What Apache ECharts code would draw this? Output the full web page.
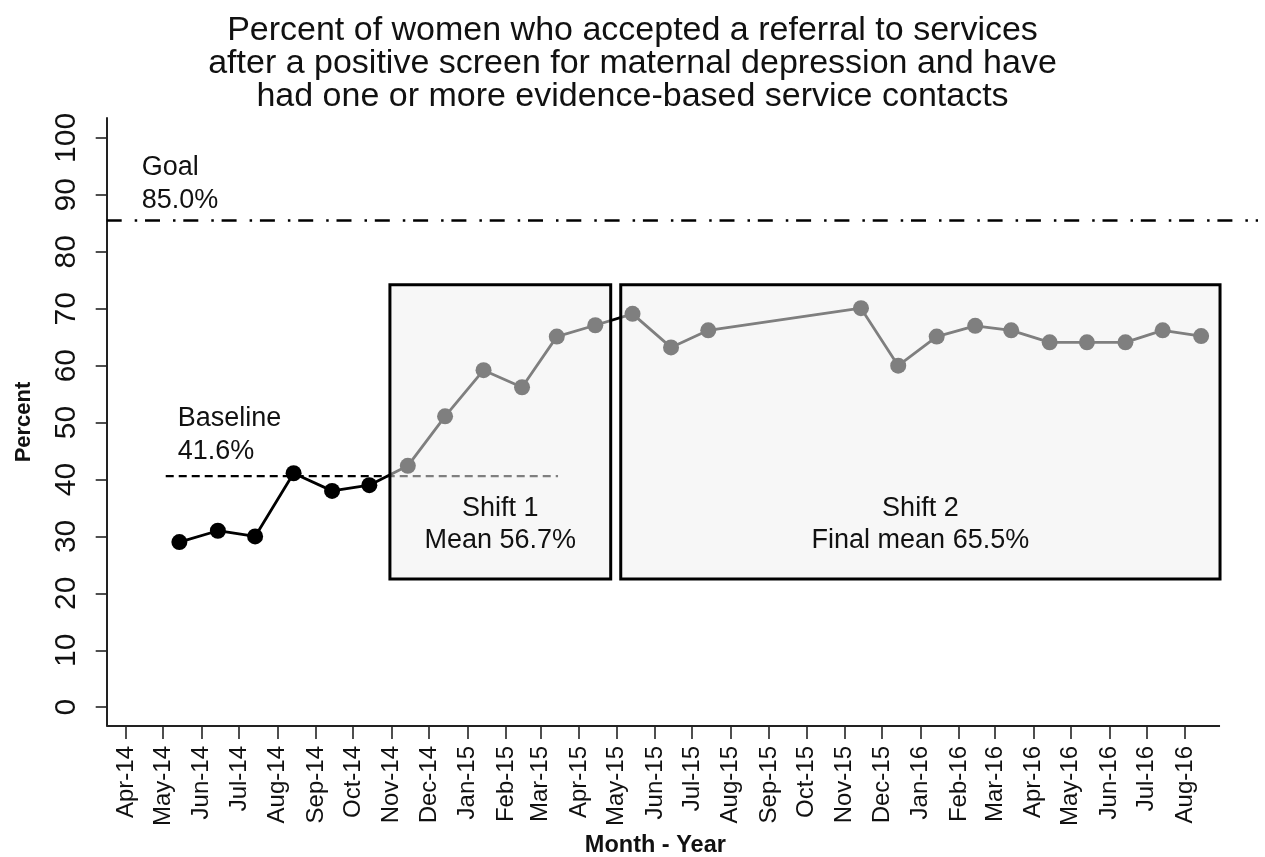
<!DOCTYPE html>
<html>
<head>
<meta charset="utf-8">
<script src="https://cdn.jsdelivr.net/npm/echarts@6/dist/echarts.min.js"></script>
<style>
html,body{margin:0;padding:0;background:#ffffff;}
#chart{width:1265px;height:857px;}
</style>
</head>
<body>
<div id="chart"></div>
<script>
// ---------------- data ----------------
const chartTitle = 'Percent of women who accepted a referral to services\nafter a positive screen for maternal depression and have\nhad one or more evidence-based service contacts';
const xAxisName = 'Month - Year';
const yAxisName = 'Percent';

const tickDates = ['2014-04-01','2014-05-01','2014-06-01','2014-07-01','2014-08-01','2014-09-01','2014-10-01','2014-11-01','2014-12-01',
  '2015-01-01','2015-02-01','2015-03-01','2015-04-01','2015-05-01','2015-06-01','2015-07-01','2015-08-01','2015-09-01','2015-10-01','2015-11-01','2015-12-01',
  '2016-01-01','2016-02-01','2016-03-01','2016-04-01','2016-05-01','2016-06-01','2016-07-01','2016-08-01'];
const tickLabels = ['Apr-14','May-14','Jun-14','Jul-14','Aug-14','Sep-14','Oct-14','Nov-14','Dec-14',
  'Jan-15','Feb-15','Mar-15','Apr-15','May-15','Jun-15','Jul-15','Aug-15','Sep-15','Oct-15','Nov-15','Dec-15',
  'Jan-16','Feb-16','Mar-16','Apr-16','May-16','Jun-16','Jul-16','Aug-16'];
const yTicks = [0,10,20,30,40,50,60,70,80,90,100];

const pointDates = ['2014-05-14','2014-06-14','2014-07-14','2014-08-14','2014-09-14','2014-10-14','2014-11-14','2014-12-14',
  '2015-01-14','2015-02-14','2015-03-14','2015-04-14','2015-05-14','2015-06-14','2015-07-14',
  '2015-11-14','2015-12-14','2016-01-14','2016-02-14','2016-03-14','2016-04-14','2016-05-14','2016-06-14','2016-07-14','2016-08-14'];
const pointValues = [29.0,31.0,30.0,41.1,38.0,39.0,42.4,51.1,
  59.2,56.2,65.1,67.1,69.1,63.2,66.2,
  70.1,60.0,65.1,67.0,66.2,64.1,64.1,64.1,66.2,65.2];

const baselineValue = 40.6;
const baselineDates = ['2014-05-03','2015-03-15'];
const baselineLabel = 'Baseline\n41.6%';

const goalValue = 85.6;
const goalLabel = 'Goal\n85.0%';

const shiftLabels = ['Shift 1\nMean 56.7%','Shift 2\nFinal mean 65.5%'];
const shiftStarts = ['2014-10-30T14:00:00Z','2015-05-04T12:00:00Z'];
const shiftEnds = ['2015-04-26T10:00:00Z','2016-08-29T05:00:00Z'];
const shiftTop = 74.2;
const shiftBottom = 22.5;

const xRange = ['2014-03-16T11:00:00Z','2016-09-28T19:00:00Z'];
const xAxisEnd = '2016-08-29T05:00:00Z';
const yRange = [-3.3, 103.5];

// ---------------- helpers ----------------
const ts = s => Date.parse(s.length === 10 ? s + 'T00:00:00Z' : s);
const tickTs = tickDates.map(ts);
const FONT = '"Liberation Sans", Arial, Helvetica, sans-serif';
const INK = '#111111';

const mainData = pointDates.map((d, i) => [ts(d), pointValues[i]]);
const baselineData = baselineDates.map(d => [ts(d), baselineValue]);

const chart = echarts.init(document.getElementById('chart'));
chart.setOption({
  animation: false,
  backgroundColor: '#ffffff',
  textStyle: { fontFamily: FONT },
  title: {
    text: chartTitle,
    left: 'center',
    top: 9,
    textStyle: { fontFamily: FONT, fontSize: 34, lineHeight: 33, fontWeight: 'normal', color: INK }
  },
  grid: { left: 106.7, right: 7, top: 118, bottom: 131, containLabel: false, outerBoundsMode: 'none' },
  xAxis: {
    type: 'value',
    min: ts(xRange[0]),
    max: ts(xRange[1]),
    name: xAxisName,
    nameLocation: 'middle',
    nameGap: 108,
    nameTextStyle: { fontFamily: FONT, fontSize: 23.5, fontWeight: 'bold', color: INK, padding: [0, 54, 0, 0] },
    axisLine: { show: false, onZero: false },
    axisTick: { show: true, length: 13, customValues: tickTs, lineStyle: { color: '#222', width: 1.6 } },
    axisLabel: {
      customValues: tickTs,
      rotate: 90,
      margin: 20,
      fontFamily: FONT,
      fontSize: 24,
      color: INK,
      formatter: v => {
        let best = 0;
        for (let i = 1; i < tickTs.length; i++) if (Math.abs(tickTs[i] - v) < Math.abs(tickTs[best] - v)) best = i;
        return tickLabels[best];
      }
    },
    splitLine: { show: false }
  },
  yAxis: {
    type: 'value',
    min: yRange[0],
    max: yRange[1],
    name: yAxisName,
    nameLocation: 'middle',
    nameGap: 72,
    nameTextStyle: { fontFamily: FONT, fontSize: 22, fontWeight: 'bold', color: INK },
    axisLine: { show: true, onZero: false, lineStyle: { color: '#222', width: 2 } },
    axisTick: { show: true, length: 11, customValues: yTicks, lineStyle: { color: '#222', width: 1.6 } },
    axisLabel: { customValues: yTicks, rotate: 90, margin: 25, fontFamily: FONT, fontSize: 30, color: INK },
    splitLine: { show: false }
  },
  series: [
    {
      name: 'values',
      type: 'line',
      z: 0,
      data: mainData,
      symbol: 'circle',
      symbolSize: 16,
      showAllSymbol: true,
      lineStyle: { color: '#000', width: 2.8 },
      itemStyle: { color: '#000' },
      silent: true
    },
    {
      name: 'baseline',
      type: 'line',
      z: 0,
      data: baselineData,
      symbol: 'none',
      lineStyle: { color: '#000', width: 2.2, type: [8, 5] },
      silent: true
    },
    {
      name: 'annotations',
      type: 'line',
      z: 3,
      data: [],
      silent: true,
      markArea: {
        silent: true,
        itemStyle: { color: 'rgba(240,240,240,0.53)', borderColor: '#000', borderWidth: 3 },
        label: {
          show: true, position: 'insideBottom', distance: 24,
          fontFamily: FONT, fontSize: 27, lineHeight: 32, color: INK, align: 'center'
        },
        data: shiftLabels.map((lab, i) => [
          { name: lab, xAxis: ts(shiftStarts[i]), yAxis: shiftTop },
          { xAxis: ts(shiftEnds[i]), yAxis: shiftBottom }
        ])
      },
      markLine: {
        silent: true,
        symbol: ['none', 'none'],
        label: { show: false },
        data: [
          { yAxis: goalValue, lineStyle: { color: '#000', width: 2.5, type: [15, 13, 2.5, 7.8] } },
          [
            { coord: [ts(xRange[0]), yRange[0]], lineStyle: { color: '#222', width: 2, type: 'solid' } },
            { coord: [ts(xAxisEnd), yRange[0]] }
          ]
        ]
      },
      markPoint: {
        silent: true,
        symbol: 'circle',
        symbolSize: 2,
        itemStyle: { color: 'rgba(0,0,0,0)' },
        label: { show: true, fontFamily: FONT, fontSize: 27, lineHeight: 33, color: INK, align: 'left', verticalAlign: 'bottom' },
        data: [
          { coord: [ts(xRange[0]), goalValue], value: goalLabel, label: { formatter: goalLabel, position: [36, -1.5] } },
          { coord: [ts(baselineDates[0]), baselineValue], value: baselineLabel, label: { formatter: baselineLabel, position: [13, -7.5] } }
        ]
      }
    }
  ]
});
</script>
</body>
</html>
